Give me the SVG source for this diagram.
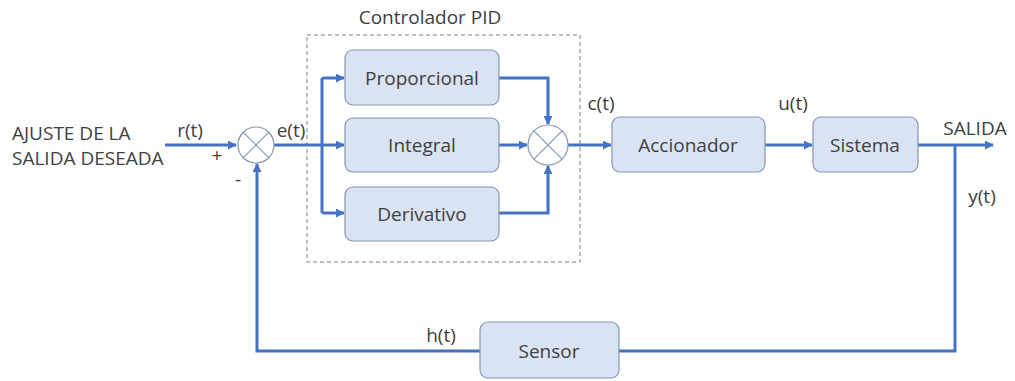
<svg xmlns="http://www.w3.org/2000/svg" width="1015" height="381" viewBox="0 0 1015 381">
  <style>
    text { font-family: "Open Sans", "Liberation Sans", sans-serif; font-size: 19px; fill: #404040; }
    .mid { text-anchor: middle; }
    .box { fill: #dae3f3; stroke: #8497b0; stroke-width: 1.2; }
    .sum { fill: #ffffff; stroke: #8497b0; stroke-width: 1.2; }
    .cross { stroke: #8497b0; stroke-width: 1.2; }
    .wire { fill: none; stroke: #4472c4; stroke-width: 3; }
    .arrow { fill: none; stroke: #4472c4; stroke-width: 3; marker-end: url(#head); }
  </style>
  <defs>
    <marker id="head" viewBox="0 0 10 10" refX="9" refY="5" markerWidth="3" markerHeight="3" orient="auto" markerUnits="strokeWidth">
      <path d="M0,0 L10,5 L0,10 z" fill="#4472c4"/>
    </marker>
  </defs>
  <rect width="1015" height="381" fill="#ffffff"/>

  <!-- PID controller frame -->
  <g id="pid-frame">
    <rect x="307" y="35" width="273" height="227" fill="none" stroke="#7f7f7f" stroke-width="1" stroke-dasharray="4,3"/>
    <text x="430" y="24" class="mid">Controlador PID</text>
  </g>

  <!-- connectors -->
  <g id="connectors">
    <path class="arrow" d="M165,145 H236"/>
    <path class="wire" d="M274,145 H322"/>
    <path class="wire" d="M322,78 V213"/>
    <path class="arrow" d="M322,78 H344"/>
    <path class="arrow" d="M322,145 H344"/>
    <path class="arrow" d="M322,213 H344"/>
    <path class="arrow" d="M499,78 H548 V124"/>
    <path class="arrow" d="M499,145 H527"/>
    <path class="arrow" d="M499,213 H548 V166"/>
    <path class="arrow" d="M568,145 H611"/>
    <path class="arrow" d="M765,145 H812"/>
    <path class="arrow" d="M918,145 H993"/>
    <path class="wire" d="M955,145 V351 H619"/>
    <path class="arrow" d="M480,351 H257 V164"/>
  </g>

  <!-- labels on connectors -->
  <g id="signal-labels">
    <text x="12" y="140">AJUSTE DE LA</text>
    <text x="12" y="165">SALIDA DESEADA</text>
    <text x="190" y="137" class="mid">r(t)</text>
    <text x="217" y="162" class="mid">+</text>
    <text x="238" y="186" class="mid">-</text>
    <text x="291" y="137" class="mid">e(t)</text>
    <text x="601" y="110" class="mid">c(t)</text>
    <text x="793" y="110" class="mid">u(t)</text>
    <text x="975" y="135" class="mid">SALIDA</text>
    <text x="982" y="203" class="mid">y(t)</text>
    <text x="441" y="342" class="mid">h(t)</text>
  </g>

  <g id="sum-error">
    <circle class="sum" cx="256" cy="145" r="18"/>
    <path class="cross" d="M243.3,132.3 L268.7,157.7 M268.7,132.3 L243.3,157.7"/>
  </g>

  <g id="proporcional">
    <rect class="box" x="345" y="50" width="154" height="55" rx="8"/>
    <text x="422" y="85" class="mid">Proporcional</text>
  </g>
  <g id="integral">
    <rect class="box" x="345" y="118" width="154" height="54" rx="8"/>
    <text x="422" y="152" class="mid">Integral</text>
  </g>
  <g id="derivativo">
    <rect class="box" x="345" y="187" width="154" height="54" rx="8"/>
    <text x="422" y="221" class="mid">Derivativo</text>
  </g>

  <g id="sum-pid">
    <circle class="sum" cx="548" cy="145" r="20"/>
    <path class="cross" d="M533.9,130.9 L562.1,159.1 M562.1,130.9 L533.9,159.1"/>
  </g>

  <g id="accionador">
    <rect class="box" x="612" y="117" width="153" height="55" rx="8"/>
    <text x="688" y="152" class="mid">Accionador</text>
  </g>
  <g id="sistema">
    <rect class="box" x="813" y="117" width="105" height="55" rx="8"/>
    <text x="865" y="152" class="mid">Sistema</text>
  </g>
  <g id="sensor">
    <rect class="box" x="480" y="322" width="139" height="56" rx="8"/>
    <text x="549" y="358" class="mid">Sensor</text>
  </g>
</svg>
